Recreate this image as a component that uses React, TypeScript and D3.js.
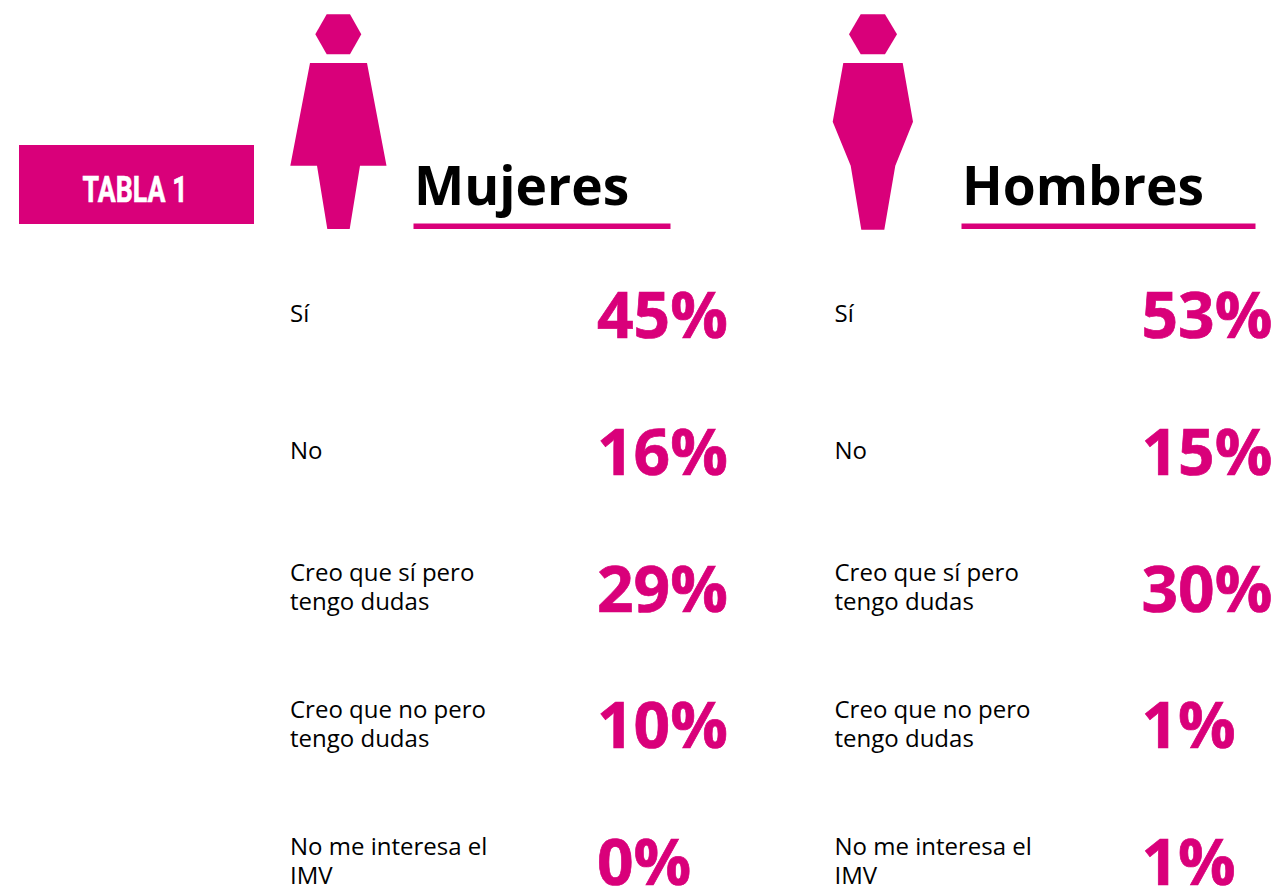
import { useEffect, useRef } from 'react';
import * as d3 from 'd3';

const answers = [
  ['Sí'],
  ['No'],
  ['Creo que sí pero', 'tengo dudas'],
  ['Creo que no pero', 'tengo dudas'],
  ['No me interesa el', 'IMV'],
];
const mujeres = [45, 16, 29, 10, 0];
const hombres = [53, 15, 30, 1, 1];

const PINK = '#d9007a';
const FONT = '"Open Sans", sans-serif';

// silhouettes, page pixels
const womanHead: [number, number][] = [[326.7, 14.3], [350, 14.3], [361.3, 34.3], [350, 54.3], [326.7, 54.3], [315.3, 34.3]];
const womanBody: [number, number][] = [[310, 63], [367, 63], [386.5, 165.7], [360, 165.7], [349.7, 229], [327.3, 229], [317, 165.7], [290.3, 165.7]];
const manHead: [number, number][] = [[860.7, 14.3], [885, 14.3], [897, 34.3], [885, 54.3], [860.7, 54.3], [849, 34.3]];
const manBody: [number, number][] = [[843.3, 63], [902.7, 63], [913, 121.7], [895.3, 165.7], [884.3, 229.7], [861.3, 229.7], [850.7, 165.7], [832.7, 121.7]];

const App = () => {
  const svgRef = useRef<SVGSVGElement>(null);

  useEffect(() => {
    const svg = d3.select(svgRef.current);
    svg.selectAll('*').remove();

    const rowY = d3.scalePoint<number>()
      .domain(d3.range(answers.length))
      .range([314, 861]);

    const shape = d3.line().curve(d3.curveLinearClosed);
    [womanHead, womanBody, manHead, manBody].forEach(points => {
      svg.append('path').attr('d', shape(points)).attr('fill', PINK);
    });

    // Tabla badge, no condensed font here so squeeze the glyphs
    svg.append('rect')
      .attr('x', 19).attr('y', 145)
      .attr('width', 235).attr('height', 79)
      .attr('fill', PINK);
    svg.append('text')
      .attr('x', 82.5).attr('y', 202)
      .attr('fill', '#fff')
      .attr('stroke', '#fff')
      .attr('stroke-width', 0.6)
      .attr('font-family', 'Roboto, sans-serif')
      .attr('font-weight', 700)
      .attr('font-size', 36)
      .attr('textLength', 105)
      .attr('lengthAdjust', 'spacingAndGlyphs')
      .text('TABLA 1');

    const drawGroup = (title: string, values: number[], lineStart: number, lineEnd: number, labelX: number, valueX: number) => {
      svg.append('text')
        .attr('x', lineStart).attr('y', 205)
        .attr('font-family', FONT)
        .attr('font-weight', 700)
        .attr('font-size', 53.3)
        .attr('fill', '#000')
        .text(title);

      svg.append('rect')
        .attr('x', lineStart - 0.5).attr('y', 223.5)
        .attr('width', lineEnd - lineStart + 0.5).attr('height', 5.5)
        .attr('fill', PINK);

      answers.forEach((lines, i) => {
        const text = svg.append('text')
          .attr('font-family', FONT)
          .attr('font-size', 24)
          .attr('fill', '#000');
        lines.forEach((line, j) => {
          const y = rowY(i)! + 8 + (j - (lines.length - 1) / 2) * 29;
          text.append('tspan').attr('x', labelX).attr('y', y).text(line);
        });

        // bold alone is a little too light against the reference
        svg.append('text')
          .attr('x', valueX).attr('y', rowY(i)! + 24)
          .attr('font-family', FONT)
          .attr('font-weight', 700)
          .attr('font-size', 64)
          .attr('fill', PINK)
          .attr('stroke', PINK)
          .attr('stroke-width', 0.7)
          .text(`${values[i]}%`);
      });
    };

    drawGroup('Mujeres', mujeres, 414, 670.5, 290, 597);
    drawGroup('Hombres', hombres, 962, 1255.5, 834.5, 1141.5);
  }, []);

  return (
    <svg
      ref={svgRef}
      width={1274}
      height={887}
      style={{ position: 'absolute', top: 0, left: 0, display: 'block', background: '#fff' }}
    />
  );
};

export default App;
